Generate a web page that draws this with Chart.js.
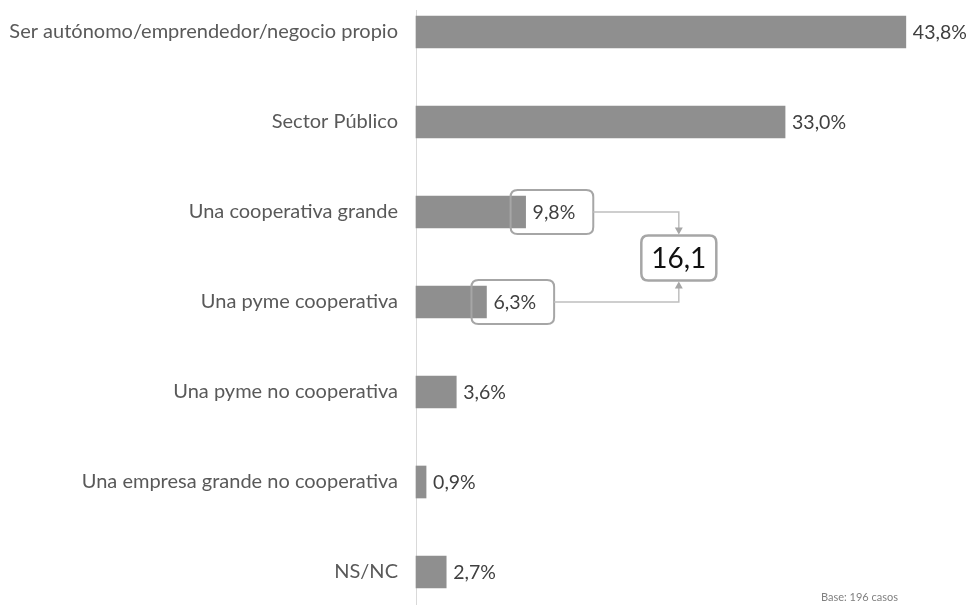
<!DOCTYPE html>
<html>
<head>
<meta charset="utf-8">
<script src="https://cdn.jsdelivr.net/npm/chart.js@4.4.0/dist/chart.umd.min.js"></script>
<style>
  html, body { margin: 0; padding: 0; background: #fff; }
  #wrap { position: relative; width: 968px; height: 605px; }
</style>
</head>
<body>
<div id="wrap"><canvas id="c" width="968" height="605"></canvas></div>
<script>
const categories = [
  'Ser autónomo/emprendedor/negocio propio',
  'Sector Público',
  'Una cooperativa grande',
  'Una pyme cooperativa',
  'Una pyme no cooperativa',
  'Una empresa grande no cooperativa',
  'NS/NC'
];
const values = [43.8, 33.0, 9.8, 6.3, 3.6, 0.9, 2.7];
const groupedIndexes = [2, 3];
const groupTotalLabel = '16,1';
const groupBoxValue = 23.5;
const baseNote = 'Base: 196 casos';

const FONT = 'Lato, "Open Sans", sans-serif';
const fmt = v => v.toFixed(1).replace('.', ',') + '%';

function roundRect(ctx, x, y, w, h, r) {
  ctx.beginPath();
  ctx.moveTo(x + r, y);
  ctx.lineTo(x + w - r, y);
  ctx.quadraticCurveTo(x + w, y, x + w, y + r);
  ctx.lineTo(x + w, y + h - r);
  ctx.quadraticCurveTo(x + w, y + h, x + w - r, y + h);
  ctx.lineTo(x + r, y + h);
  ctx.quadraticCurveTo(x, y + h, x, y + h - r);
  ctx.lineTo(x, y + r);
  ctx.quadraticCurveTo(x, y, x + r, y);
  ctx.closePath();
}

const overlay = {
  id: 'overlay',
  beforeDatasetsDraw(chart) {
    const ctx = chart.ctx;
    const area = chart.chartArea;
    ctx.save();
    ctx.strokeStyle = '#d9d9d9';
    ctx.lineWidth = 1;
    ctx.beginPath();
    ctx.moveTo(area.left + 0.5, area.top - 22);
    ctx.lineTo(area.left + 0.5, chart.height);
    ctx.stroke();
    ctx.restore();
  },
  afterDatasetsDraw(chart) {
    const ctx = chart.ctx;
    const meta = chart.getDatasetMeta(0);
    const xs = chart.scales.x;
    ctx.save();
    ctx.font = '19.5px ' + FONT;
    ctx.fillStyle = '#404040';
    ctx.textBaseline = 'middle';
    ctx.textAlign = 'left';
    meta.data.forEach((bar, i) => {
      ctx.fillText(fmt(values[i]), bar.x + 7, bar.y + 1);
    });

    // callout boxes around grouped labels
    ctx.strokeStyle = '#a6a6a6';
    ctx.lineWidth = 2;
    const boxes = groupedIndexes.map(i => {
      const bar = meta.data[i];
      const w = ctx.measureText(fmt(values[i])).width;
      const bx = bar.x - 15, by = bar.y - 22, bw = w + 15 + 7 + 18, bh = 44;
      roundRect(ctx, bx, by, bw, bh, 7);
      ctx.stroke();
      return { right: bx + bw, y: bar.y };
    });

    // total box
    const cx = xs.getPixelForValue(groupBoxValue);
    const y1 = meta.data[groupedIndexes[0]].y, y2 = meta.data[groupedIndexes[1]].y;
    const cy = (y1 + y2) / 2 + 1;
    const tw = 75, th = 45;
    const tTop = cy - th / 2, tBot = cy + th / 2;
    ctx.strokeStyle = '#a6a6a6';
    ctx.lineWidth = 2.5;
    roundRect(ctx, cx - tw / 2, tTop, tw, th, 7);
    ctx.stroke();
    ctx.fillStyle = '#111';
    ctx.font = '28px ' + FONT;
    ctx.textAlign = 'center';
    ctx.fillText(groupTotalLabel, cx, cy + 1);

    // connectors
    ctx.strokeStyle = '#bfbfbf';
    ctx.fillStyle = '#a6a6a6';
    ctx.lineWidth = 1.5;
    const arrow = (x, y, dir) => {
      ctx.beginPath();
      ctx.moveTo(x, y);
      ctx.lineTo(x - 4, y - dir * 7);
      ctx.lineTo(x + 4, y - dir * 7);
      ctx.closePath();
      ctx.fill();
    };
    ctx.beginPath();
    ctx.moveTo(boxes[0].right, boxes[0].y);
    ctx.lineTo(cx, boxes[0].y);
    ctx.lineTo(cx, tTop - 3);
    ctx.stroke();
    arrow(cx, tTop - 1, 1);
    ctx.beginPath();
    ctx.moveTo(boxes[1].right, boxes[1].y);
    ctx.lineTo(cx, boxes[1].y);
    ctx.lineTo(cx, tBot + 3);
    ctx.stroke();
    arrow(cx, tBot + 1, -1);

    // base note
    ctx.font = '11px ' + FONT;
    ctx.fillStyle = '#808080';
    ctx.textAlign = 'right';
    ctx.textBaseline = 'alphabetic';
    ctx.fillText(baseNote, 898, 601);
    ctx.restore();
  }
};

new Chart(document.getElementById('c'), {
  type: 'bar',
  data: {
    labels: categories,
    datasets: [{
      data: values,
      backgroundColor: '#8f8f8f',
      borderWidth: 0,
      barThickness: 32,
      clip: false
    }]
  },
  options: {
    indexAxis: 'y',
    responsive: false,
    animation: false,
    layout: { padding: { top: 32, bottom: 33, right: 4, left: 0 } },
    plugins: { legend: { display: false }, tooltip: { enabled: false } },
    scales: {
      x: { display: false, min: 0, max: 49 },
      y: {
        offset: false,
        border: { display: false },
        grid: { display: false, drawTicks: false },
        afterFit: s => { s.width = 416; },
        ticks: {
          padding: 18,
          color: '#595959',
          font: { family: FONT, size: 20 }
        }
      }
    }
  },
  plugins: [overlay]
});
</script>
</body>
</html>
